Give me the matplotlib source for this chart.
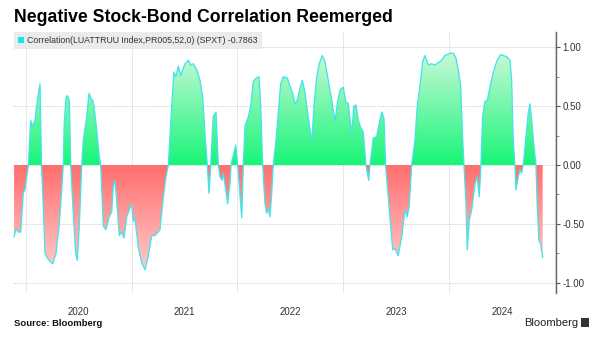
import numpy as np
import matplotlib
matplotlib.use("Agg")
import matplotlib.pyplot as plt
from matplotlib.path import Path
from matplotlib.patches import Patch, Rectangle
from matplotlib.ticker import FixedLocator, NullFormatter, FixedFormatter

plt.rcParams['axes.unicode_minus'] = False
plt.rcParams['font.family'] = ['Liberation Sans', 'DejaVu Sans']

# ---- data (decimal year, 52-week correlation) ----
years = [
    2019.890, 2019.908, 2019.930, 2019.953, 2019.977, 2019.993, 2020.025, 2020.047, 2020.062, 2020.088,
    2020.110, 2020.135, 2020.149, 2020.166, 2020.182, 2020.204, 2020.229, 2020.255, 2020.286, 2020.317,
    2020.340, 2020.355, 2020.364, 2020.381, 2020.393, 2020.412, 2020.425, 2020.449, 2020.472, 2020.487,
    2020.506, 2020.529, 2020.544, 2020.576, 2020.598, 2020.614, 2020.633, 2020.645, 2020.670, 2020.695,
    2020.708, 2020.733, 2020.758, 2020.789, 2020.812, 2020.827, 2020.843, 2020.859, 2020.884, 2020.907,
    2020.928, 2020.954, 2020.978, 2021.001, 2021.016, 2021.032, 2021.063, 2021.095, 2021.127, 2021.158,
    2021.190, 2021.221, 2021.240, 2021.268, 2021.299, 2021.325, 2021.347, 2021.379, 2021.400, 2021.419,
    2021.441, 2021.464, 2021.504, 2021.535, 2021.558, 2021.583, 2021.615, 2021.646, 2021.671, 2021.693,
    2021.715, 2021.731, 2021.747, 2021.771, 2021.797, 2021.819, 2021.835, 2021.854, 2021.866, 2021.889,
    2021.907, 2021.929, 2021.939, 2021.960, 2021.983, 2022.002, 2022.017, 2022.040, 2022.055, 2022.071,
    2022.102, 2022.125, 2022.149, 2022.181, 2022.203, 2022.219, 2022.238, 2022.260, 2022.276, 2022.291,
    2022.307, 2022.323, 2022.338, 2022.364, 2022.385, 2022.408, 2022.432, 2022.470, 2022.496, 2022.521,
    2022.543, 2022.565, 2022.590, 2022.612, 2022.637, 2022.663, 2022.685, 2022.703, 2022.722, 2022.748,
    2022.772, 2022.801, 2022.826, 2022.857, 2022.890, 2022.921, 2022.942, 2022.968, 2022.999, 2023.022,
    2023.046, 2023.078, 2023.100, 2023.119, 2023.141, 2023.163, 2023.188, 2023.213, 2023.239, 2023.251,
    2023.270, 2023.282, 2023.314, 2023.336, 2023.362, 2023.383, 2023.399, 2023.415, 2023.440, 2023.466,
    2023.487, 2023.518, 2023.551, 2023.582, 2023.603, 2023.622, 2023.645, 2023.676, 2023.698, 2023.723,
    2023.749, 2023.771, 2023.802, 2023.834, 2023.865, 2023.896, 2023.928, 2023.959, 2024.007, 2024.038,
    2024.063, 2024.085, 2024.108, 2024.127, 2024.139, 2024.158, 2024.170, 2024.189, 2024.212, 2024.243,
    2024.264, 2024.283, 2024.299, 2024.315, 2024.337, 2024.359, 2024.391, 2024.416, 2024.448, 2024.485,
    2024.510, 2024.542, 2024.573, 2024.589, 2024.604, 2024.620, 2024.630, 2024.652, 2024.668, 2024.684,
    2024.699, 2024.724, 2024.746, 2024.762, 2024.778, 2024.800, 2024.819, 2024.831, 2024.847, 2024.863,
    2024.882,
]
corr = [
    -0.61, -0.54, -0.57, -0.57, -0.24, -0.21, 0.00, 0.38, 0.33, 0.38,
    0.55, 0.69, 0.00, -0.35, -0.75, -0.79, -0.82, -0.84, -0.75, -0.50,
    -0.21, 0.00, 0.36, 0.57, 0.59, 0.55, 0.00, -0.41, -0.75, -0.81,
    -0.52, 0.00, 0.21, 0.41, 0.61, 0.57, 0.55, 0.50, 0.30, 0.07,
    0.00, -0.52, -0.55, -0.44, -0.40, -0.18, -0.13, -0.30, -0.60, -0.57,
    -0.62, -0.44, -0.38, -0.33, -0.48, -0.45, -0.70, -0.83, -0.89, -0.77,
    -0.60, -0.60, -0.58, -0.55, -0.28, -0.10, 0.00, 0.50, 0.79, 0.75,
    0.84, 0.76, 0.86, 0.89, 0.85, 0.86, 0.81, 0.72, 0.58, 0.27,
    0.00, -0.24, 0.00, 0.41, 0.45, 0.00, -0.10, -0.13, -0.07, -0.21,
    -0.33, -0.16, 0.00, 0.08, 0.17, 0.00, -0.18, -0.45, 0.00, 0.33,
    0.41, 0.50, 0.71, 0.74, 0.75, 0.50, 0.00, -0.33, -0.41, -0.37,
    -0.44, -0.24, 0.00, 0.21, 0.44, 0.69, 0.75, 0.74, 0.67, 0.61,
    0.52, 0.55, 0.65, 0.72, 0.62, 0.44, 0.30, 0.20, 0.50, 0.75,
    0.86, 0.93, 0.88, 0.72, 0.55, 0.37, 0.52, 0.64, 0.66, 0.54,
    0.52, 0.27, 0.50, 0.51, 0.38, 0.32, 0.28, 0.00, -0.13, 0.00,
    0.13, 0.23, 0.24, 0.34, 0.45, 0.40, 0.00, -0.18, -0.44, -0.72,
    -0.71, -0.77, -0.61, -0.38, -0.44, -0.35, 0.00, 0.21, 0.50, 0.67,
    0.88, 0.93, 0.85, 0.86, 0.85, 0.87, 0.89, 0.93, 0.95, 0.95,
    0.91, 0.81, 0.67, 0.21, 0.00, -0.33, -0.72, -0.47, -0.38, -0.16,
    -0.10, -0.27, 0.00, 0.41, 0.54, 0.55, 0.69, 0.79, 0.88, 0.94,
    0.93, 0.92, 0.89, 0.72, 0.21, 0.00, -0.21, -0.10, -0.04, -0.07,
    0.00, 0.24, 0.44, 0.52, 0.38, 0.16, 0.00, -0.35, -0.64, -0.67,
    -0.7863,
]
year_labels = ['2020', '2021', '2022', '2023', '2024']
year_bounds = [2020, 2021, 2022, 2023, 2024, 2025]
y_ticks = [-1.0, -0.5, 0.0, 0.5, 1.0]
y_tick_labels = ['-1.00', '-0.50', '0.00', '0.50', '1.00']
title = 'Negative Stock-Bond Correlation Reemerged'
legend_label = 'Correlation(LUATTRUU Index,PR005,52,0) (SPXT) -0.7863'

x = np.array(years)
v = np.array(corr)

W, H = 600, 338
fig = plt.figure(figsize=(W / 100, H / 100), dpi=100)
fig.patch.set_facecolor('white')
ax = fig.add_axes([13 / W, 1 - 293 / H, (556 - 13) / W, (293 - 32) / H])

xlim = (2019.880, 2025.008)
ylim = (-1.0875, 1.13)

# gradient fills clipped to the area polygons
def ramp(c0, c1, n=256):
    c0 = np.array(c0) / 255.0
    c1 = np.array(c1) / 255.0
    t = np.linspace(0, 1, n)[:, None]
    return (c0 + (c1 - c0) * t)[:, None, :]

pos = ax.fill_between(x, v, 0, where=v >= 0, interpolate=True,
                      facecolor='none', edgecolor='none')
neg = ax.fill_between(x, v, 0, where=v <= 0, interpolate=True,
                      facecolor='none', edgecolor='none')

g_img = ramp((24, 245, 120), (208, 249, 220))
r_img = ramp((255, 110, 110), (255, 214, 214))

im_g = ax.imshow(g_img, extent=[xlim[0], xlim[1], 0, 1.0], origin='lower',
                 aspect='auto', zorder=1, interpolation='bilinear')
im_g.set_clip_path(Path.make_compound_path(*pos.get_paths()), transform=ax.transData)
im_r = ax.imshow(r_img, extent=[xlim[0], xlim[1], 0, -1.0], origin='lower',
                 aspect='auto', zorder=1, interpolation='bilinear')
im_r.set_clip_path(Path.make_compound_path(*neg.get_paths()), transform=ax.transData)

line, = ax.plot(x, v, color='#45e4ea', lw=0.95, zorder=3)

ax.set_xlim(*xlim)
ax.set_ylim(*ylim)

# x axis: year boundaries as grid, labels centred mid-year
ax.xaxis.set_major_locator(FixedLocator(year_bounds))
ax.xaxis.set_major_formatter(NullFormatter())
ax.xaxis.set_minor_locator(FixedLocator([b + 0.5 for b in year_bounds[:-1]]))
ax.xaxis.set_minor_formatter(FixedFormatter(year_labels))
ax.tick_params(axis='x', which='both', length=0, labelsize=7, labelcolor='#333333', pad=10)

# y axis on right
ax.yaxis.tick_right()
ax.yaxis.set_major_locator(FixedLocator(y_ticks))
ax.yaxis.set_major_formatter(FixedFormatter(y_tick_labels))
ax.yaxis.set_minor_locator(FixedLocator([-0.75, -0.25, 0.25, 0.75]))
ax.tick_params(axis='y', which='major', length=3, width=0.8, color='#555555',
               labelsize=7, labelcolor='#333333', pad=1.5)
ax.tick_params(axis='y', which='minor', length=2, width=0.6, color='#777777')

for s in ['left', 'top', 'bottom']:
    ax.spines[s].set_visible(False)
ax.spines['right'].set_color('#666666')
ax.spines['right'].set_linewidth(1.0)

ax.grid(True, which='major', axis='both', color='#c8c8c8', lw=0.6, ls=(0, (1, 1)), zorder=0)
ax.set_axisbelow(True)

handle = Patch(facecolor='#10e4ee', edgecolor='none')
leg = ax.legend([handle], [legend_label], loc='upper left', bbox_to_anchor=(0.0015, 1.0),
                frameon=True, facecolor='#ebebeb', edgecolor='none', fancybox=False,
                framealpha=1, handlelength=0.75, handleheight=0.75, handletextpad=0.3,
                borderpad=0.45, borderaxespad=0, prop={'family': 'Liberation Sans', 'size': 6.3})
for t in leg.get_texts():
    t.set_color('#333333')
leg.set_zorder(5)

fig.text(14 / W, 1 - 18 / H, title, fontsize=12.7, fontweight='bold', color='black',
         ha='left', va='center', family='Liberation Sans')
fig.text(14 / W, 1 - 324 / H, 'Source: Bloomberg', fontsize=6.8, fontweight='bold',
         color='#111111', ha='left', va='center', family='Liberation Sans')
fig.text(578 / W, 1 - 323 / H, 'Bloomberg', fontsize=8, color='#222222',
         ha='right', va='center', family='Liberation Sans')
fig.add_artist(Rectangle((581 / W, 1 - 327 / H), 8 / W, 9 / H, transform=fig.transFigure,
                         facecolor='#333333', edgecolor='none'))

fig.savefig('out.png', dpi=100)
